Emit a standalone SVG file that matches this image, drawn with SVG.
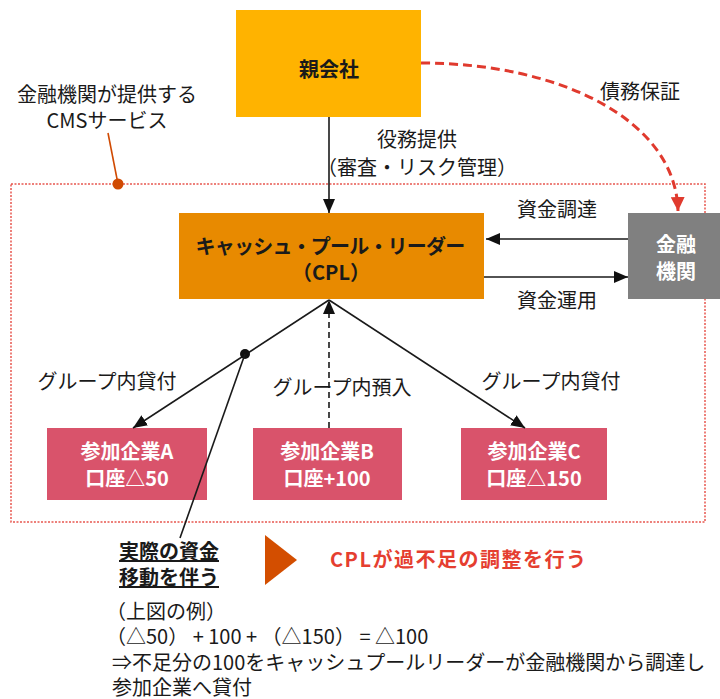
<svg xmlns="http://www.w3.org/2000/svg" width="720" height="699" viewBox="0 0 720 699">
<defs>
<style>
text{font-family:"Noto Sans CJK JP","Noto Sans",sans-serif;font-size:20px;fill:#1a1a1a}
.b{font-weight:bold}
.c{text-anchor:middle}
.w{fill:#ffffff;font-weight:bold}
.ln{stroke:#1a1a1a;stroke-width:1.6;fill:none}
</style>
<marker id="ah" markerUnits="userSpaceOnUse" markerWidth="14" markerHeight="12" viewBox="0 0 14 12" refX="14" refY="6" orient="auto"><path d="M0,0 L14,6 L0,12 z" fill="#111"/></marker>
<marker id="ahr" markerUnits="userSpaceOnUse" markerWidth="14" markerHeight="14" viewBox="0 0 14 14" refX="14" refY="7" orient="auto"><path d="M0,0 L14,7 L0,14 z" fill="#e03a2e"/></marker>
</defs>
<rect width="720" height="699" fill="#ffffff"/>

<g id="cms-area">
<rect x="11" y="184" width="694" height="338" fill="none" stroke="#e8574f" stroke-width="1.5" stroke-dasharray="2 1.5"/>
</g>

<g id="parent">
<rect x="236" y="10" width="185" height="107" fill="#ffb300"/>
<text class="b c" x="329" y="77">親会社</text>
</g>

<g id="cpl">
<rect x="179" y="213" width="305" height="86" fill="#e88a00"/>
<text class="b c" x="330" y="254" font-size="19" letter-spacing="-0.8">キャッシュ・プール・リーダー</text>
<text class="b c" x="331" y="280" font-size="19">（CPL）</text>
</g>

<g id="bank">
<rect x="628" y="213" width="92" height="86" fill="#808080"/>
<text class="w c" x="676" y="252">金融</text>
<text class="w c" x="676" y="279">機関</text>
</g>

<g id="company-a">
<rect x="47" y="428" width="160" height="72" fill="#d9536b"/>
<text class="w c" x="127" y="459">参加企業A</text>
<text class="w c" x="127" y="486">口座△50</text>
</g>

<g id="company-b">
<rect x="253" y="428" width="149" height="72" fill="#d9536b"/>
<text class="w c" x="327" y="459">参加企業B</text>
<text class="w c" x="327" y="486">口座+100</text>
</g>

<g id="company-c">
<rect x="461" y="428" width="146" height="72" fill="#d9536b"/>
<text class="w c" x="534" y="459">参加企業C</text>
<text class="w c" x="534" y="486">口座△150</text>
</g>

<g id="connectors">
<line class="ln" x1="329" y1="117" x2="329" y2="213" marker-end="url(#ah)"/>
<path d="M421,63 C560,63 676,120 678,211" fill="none" stroke="#e03a2e" stroke-width="3" stroke-dasharray="9 5" marker-end="url(#ahr)"/>
<line class="ln" x1="628" y1="239" x2="486" y2="239" marker-end="url(#ah)"/>
<line class="ln" x1="484" y1="277" x2="628" y2="277" marker-end="url(#ah)"/>
<line class="ln" x1="329" y1="300" x2="133" y2="428" marker-end="url(#ah)"/>
<line class="ln" x1="329" y1="300" x2="525" y2="428" marker-end="url(#ah)"/>
<line class="ln" x1="329" y1="428" x2="329" y2="300" stroke-dasharray="6 4" marker-end="url(#ah)"/>
<circle cx="245" cy="354" r="5" fill="#111"/>
<line class="ln" x1="245" y1="354" x2="180" y2="538"/>
<line x1="108" y1="133" x2="118" y2="184" stroke="#d04a02" stroke-width="1.6"/>
<circle cx="118" cy="184" r="5.5" fill="#d04a02"/>
</g>

<g id="labels">
<text class="c" x="107" y="102">金融機関が提供する</text>
<text class="c" x="107" y="128">CMSサービス</text>
<text class="c" x="417" y="147">役務提供</text>
<text class="c" x="417" y="175">（審査・リスク管理）</text>
<text class="c" x="640" y="99">債務保証</text>
<text class="c" x="557" y="217">資金調達</text>
<text class="c" x="557" y="308">資金運用</text>
<text class="c" x="107" y="389">グループ内貸付</text>
<text class="c" x="342" y="395">グループ内預入</text>
<text class="c" x="551" y="389">グループ内貸付</text>
</g>

<g id="note">
<text class="b" x="119" y="559" text-decoration="underline">実際の資金</text>
<text class="b" x="119" y="585" text-decoration="underline">移動を伴う</text>
<path d="M265,535 L297,560 L265,585 z" fill="#d34e00"/>
<text class="b" x="330" y="567" font-size="21" letter-spacing="1.5" style="fill:#e53e30">CPLが過不足の調整を行う</text>
<text x="106" y="619">（上図の例）</text>
<text x="106" y="644">（△50） + 100 + （△150） = △100</text>
<text x="112" y="670">⇒不足分の100をキャッシュプールリーダーが金融機関から調達し</text>
<text x="112" y="695">参加企業へ貸付</text>
</g>
</svg>
